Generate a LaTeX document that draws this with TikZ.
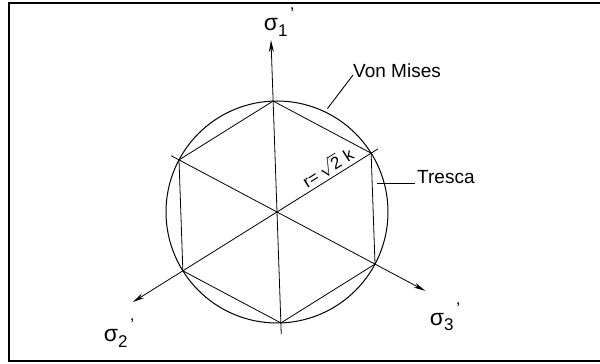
\documentclass[tikz,border=0pt]{standalone}
\usepackage{fontspec}
\setmainfont{Liberation Sans}
\usetikzlibrary{arrows.meta,calc}
\newcommand{\sigmalbl}[1]{σ\raisebox{-0.45ex}{\fontsize{17}{19}\selectfont #1}\raisebox{0.9ex}{\fontsize{17}{19}\selectfont\,'}}
\begin{document}
\begin{tikzpicture}[x=1pt,y=1pt,>={Stealth[length=12pt,width=5pt]},every node/.style={font=\fontsize{19}{21}\selectfont,inner sep=1pt},axis/.style={line width=0.8pt},hexa/.style={line width=0.8pt},leader/.style={line width=0.9pt}]
  \useasboundingbox (0,0) rectangle (600,364);
  \draw[line width=2.5pt] (600,361)--(9,361)--(9,3)--(600,3);
  \coordinate (O) at (277,152);
  \coordinate (P1) at ($(O)+(92:111)$);
  \coordinate (P2) at ($(O)+(152:111)$);
  \coordinate (P3) at ($(O)+(212:111)$);
  \coordinate (P4) at ($(O)+(272:111)$);
  \coordinate (P5) at ($(O)+(332:111)$);
  \coordinate (P6) at ($(O)+(32:111)$);
  \coordinate (T1) at ($(O)+(92:172)$);
  \coordinate (T2) at ($(O)+(212:170)$);
  \coordinate (T3) at ($(O)+(332:168)$);
  \coordinate (E1) at ($(O)+(272:122)$);
  \coordinate (E2) at ($(O)+(32:119)$);
  \coordinate (E3) at ($(O)+(152:120)$);
  \draw[line width=1pt] (O) circle (111);
  \draw[hexa] (P1)--(P2)--(P3)--(P4)--(P5)--(P6)--cycle;
  \draw[axis,->] (E1)--(T1);
  \draw[axis,->] (E2)--(T2);
  \draw[axis,->] (E3)--(T3);
  \node[font=\fontsize{23}{25}\selectfont] (s1) at (279,342) {\sigmalbl{1}};
  \node[font=\fontsize{23}{25}\selectfont] (s2) at (119,31) {\sigmalbl{2}};
  \node[font=\fontsize{23}{25}\selectfont] (s3) at (445,47) {\sigmalbl{3}};
  \node[anchor=south west] (vm) at (352,285) {Von Mises};
  \node[anchor=south west] (tr) at (416,179) {Tresca};
  \coordinate (vmA) at ($(O)+(64:115)$);
  \coordinate (vmB) at (353,289);
  \coordinate (trA) at (377,181);
  \coordinate (trB) at (415,181);
  \draw[leader] (vmA)--(vmB);
  \draw[leader] (trA)--(trB);
  \path (O)--(P6) node[pos=.6,sloped,above=1pt,font=\fontsize{17}{19}\selectfont] (rk) {r=\,$\sqrt{\mbox{2}}$\,\,k};
\end{tikzpicture}
\end{document}
